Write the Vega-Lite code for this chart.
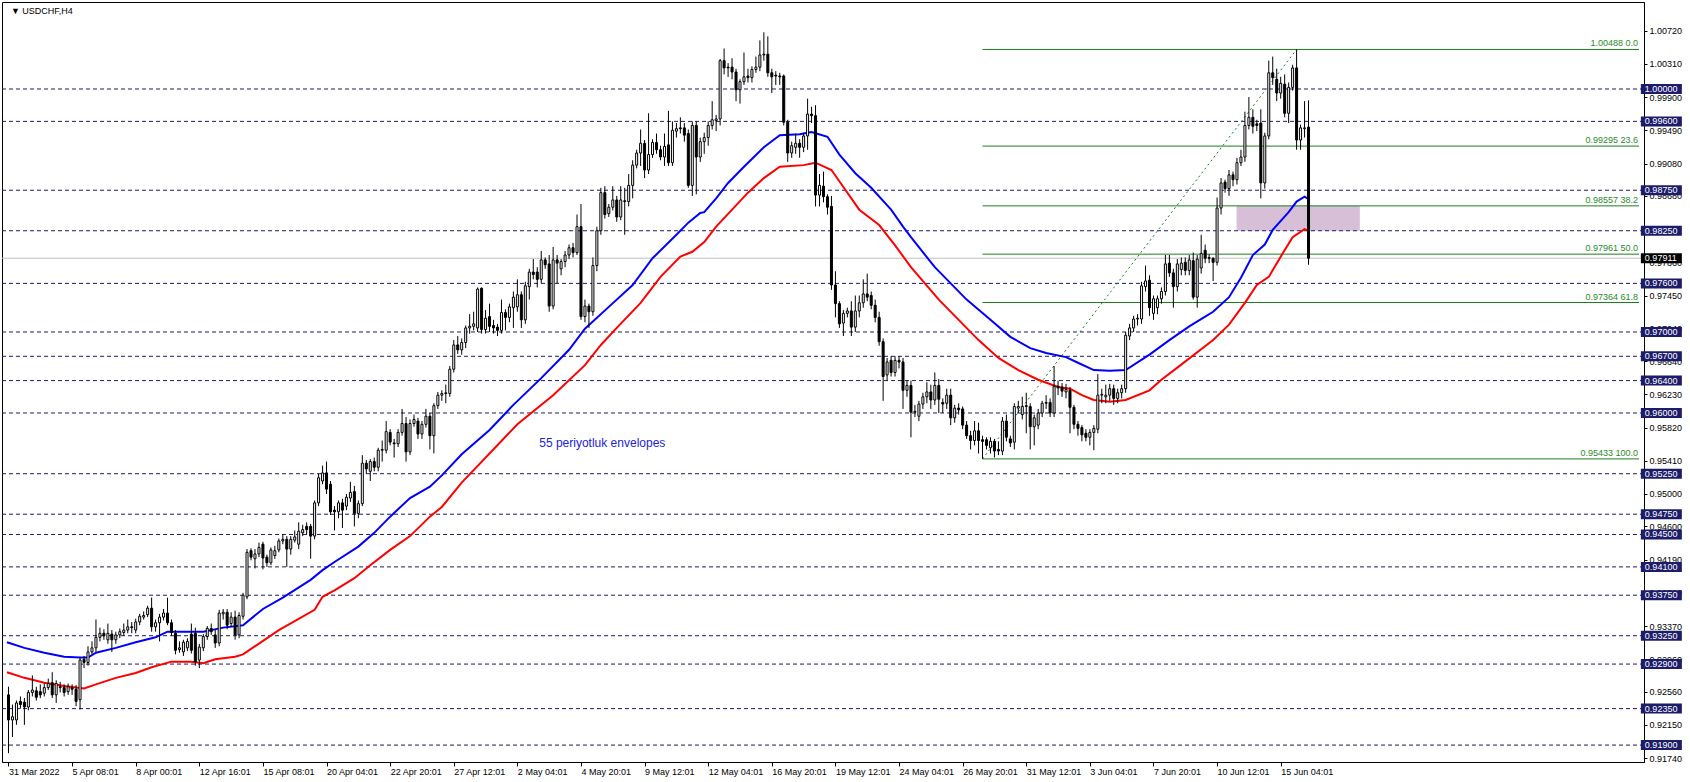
{
"$schema": "https://vega.github.io/schema/vega-lite/v6.json",
"width": 1642, "height": 760,
"autosize": "none",
"padding": {"left": 2, "top": 2, "right": 46, "bottom": 20},
"background": "white",
"config": {"view": {"stroke": "black", "strokeWidth": 1}, "font": "Liberation Sans", "axis": {"grid": false, "labelOverlap": false}},
"datasets": {
"k": [
{"i":0,"o":0.9252,"h":0.9262,"l":0.918,"c":0.9221},
{"i":1,"o":0.9221,"h":0.924,"l":0.92,"c":0.9225},
{"i":2,"o":0.9221,"h":0.9245,"l":0.9215,"c":0.9242},
{"i":3,"o":0.9244,"h":0.925,"l":0.9235,"c":0.924},
{"i":4,"o":0.9243,"h":0.9248,"l":0.9215,"c":0.9237},
{"i":5,"o":0.9237,"h":0.9258,"l":0.9233,"c":0.9255},
{"i":6,"o":0.9255,"h":0.9276,"l":0.925,"c":0.9258},
{"i":7,"o":0.9257,"h":0.9262,"l":0.9245,"c":0.9249},
{"i":8,"o":0.9256,"h":0.9265,"l":0.9248,"c":0.9252},
{"i":9,"o":0.9254,"h":0.9266,"l":0.925,"c":0.9261},
{"i":10,"o":0.9261,"h":0.9272,"l":0.9258,"c":0.9266},
{"i":11,"o":0.9267,"h":0.928,"l":0.9248,"c":0.9252},
{"i":12,"o":0.9252,"h":0.927,"l":0.9242,"c":0.9266},
{"i":13,"o":0.9262,"h":0.9268,"l":0.9255,"c":0.9261},
{"i":14,"o":0.9261,"h":0.9265,"l":0.925,"c":0.9255},
{"i":15,"o":0.9256,"h":0.9266,"l":0.9252,"c":0.9262},
{"i":16,"o":0.9261,"h":0.9265,"l":0.9252,"c":0.9259},
{"i":17,"o":0.9259,"h":0.9264,"l":0.9238,"c":0.9244},
{"i":18,"o":0.9246,"h":0.9298,"l":0.9234,"c":0.9295},
{"i":19,"o":0.9296,"h":0.93,"l":0.9285,"c":0.9292},
{"i":20,"o":0.9292,"h":0.9312,"l":0.9288,"c":0.9305},
{"i":21,"o":0.9305,"h":0.9318,"l":0.9302,"c":0.931},
{"i":22,"o":0.931,"h":0.9345,"l":0.9305,"c":0.9323},
{"i":23,"o":0.9323,"h":0.9335,"l":0.9318,"c":0.9328},
{"i":24,"o":0.9328,"h":0.9333,"l":0.932,"c":0.9325},
{"i":25,"o":0.932,"h":0.934,"l":0.9315,"c":0.9328},
{"i":26,"o":0.9327,"h":0.9332,"l":0.9305,"c":0.932},
{"i":27,"o":0.932,"h":0.933,"l":0.9315,"c":0.9326},
{"i":28,"o":0.9326,"h":0.9334,"l":0.9322,"c":0.933},
{"i":29,"o":0.9329,"h":0.934,"l":0.9325,"c":0.9332},
{"i":30,"o":0.9332,"h":0.9345,"l":0.9328,"c":0.9336},
{"i":31,"o":0.9336,"h":0.9342,"l":0.9328,"c":0.9335},
{"i":32,"o":0.9332,"h":0.9346,"l":0.9328,"c":0.9342},
{"i":33,"o":0.9342,"h":0.9352,"l":0.9338,"c":0.9349},
{"i":34,"o":0.9348,"h":0.9355,"l":0.9345,"c":0.935},
{"i":35,"o":0.9351,"h":0.9362,"l":0.9348,"c":0.9359},
{"i":36,"o":0.9359,"h":0.9372,"l":0.933,"c":0.9336},
{"i":37,"o":0.9336,"h":0.9345,"l":0.933,"c":0.9341},
{"i":38,"o":0.9341,"h":0.9352,"l":0.9318,"c":0.9348},
{"i":39,"o":0.9348,"h":0.9358,"l":0.9344,"c":0.9353},
{"i":40,"o":0.9353,"h":0.9372,"l":0.9338,"c":0.9341},
{"i":41,"o":0.9341,"h":0.9345,"l":0.9325,"c":0.9329},
{"i":42,"o":0.9328,"h":0.9332,"l":0.9302,"c":0.9307},
{"i":43,"o":0.9308,"h":0.9318,"l":0.9304,"c":0.931},
{"i":44,"o":0.9305,"h":0.932,"l":0.93,"c":0.9317},
{"i":45,"o":0.931,"h":0.9322,"l":0.9306,"c":0.9318},
{"i":46,"o":0.9327,"h":0.934,"l":0.9303,"c":0.9307},
{"i":47,"o":0.9328,"h":0.9335,"l":0.9288,"c":0.9293},
{"i":48,"o":0.9295,"h":0.9315,"l":0.9285,"c":0.9311},
{"i":49,"o":0.931,"h":0.9327,"l":0.9306,"c":0.9324},
{"i":50,"o":0.9324,"h":0.9337,"l":0.932,"c":0.9334},
{"i":51,"o":0.9334,"h":0.934,"l":0.9326,"c":0.933},
{"i":52,"o":0.9326,"h":0.9333,"l":0.931,"c":0.9316},
{"i":53,"o":0.9316,"h":0.9357,"l":0.9312,"c":0.9353},
{"i":54,"o":0.9352,"h":0.9358,"l":0.9345,"c":0.9354},
{"i":55,"o":0.9354,"h":0.9358,"l":0.9333,"c":0.9338},
{"i":56,"o":0.934,"h":0.9354,"l":0.9336,"c":0.9348},
{"i":57,"o":0.9348,"h":0.9356,"l":0.932,"c":0.9326},
{"i":58,"o":0.9326,"h":0.9354,"l":0.9322,"c":0.935},
{"i":59,"o":0.9349,"h":0.9378,"l":0.9345,"c":0.9375},
{"i":60,"o":0.9373,"h":0.9432,"l":0.937,"c":0.9428},
{"i":61,"o":0.943,"h":0.9433,"l":0.9418,"c":0.9422},
{"i":62,"o":0.942,"h":0.9432,"l":0.9408,"c":0.9426},
{"i":63,"o":0.9426,"h":0.944,"l":0.9422,"c":0.9434},
{"i":64,"o":0.9438,"h":0.9441,"l":0.9407,"c":0.9421},
{"i":65,"o":0.9422,"h":0.9425,"l":0.941,"c":0.9415},
{"i":66,"o":0.9415,"h":0.9434,"l":0.9412,"c":0.9431},
{"i":67,"o":0.9424,"h":0.9436,"l":0.942,"c":0.943},
{"i":68,"o":0.9431,"h":0.9445,"l":0.9428,"c":0.9442},
{"i":69,"o":0.9442,"h":0.945,"l":0.9438,"c":0.9444},
{"i":70,"o":0.9444,"h":0.9448,"l":0.941,"c":0.9432},
{"i":71,"o":0.9432,"h":0.9448,"l":0.9425,"c":0.9444},
{"i":72,"o":0.9443,"h":0.9455,"l":0.944,"c":0.9447},
{"i":73,"o":0.9438,"h":0.9465,"l":0.9432,"c":0.9454},
{"i":74,"o":0.9452,"h":0.9462,"l":0.9448,"c":0.9456},
{"i":75,"o":0.946,"h":0.9465,"l":0.945,"c":0.9456},
{"i":76,"o":0.946,"h":0.9463,"l":0.942,"c":0.9448},
{"i":77,"o":0.9448,"h":0.9492,"l":0.9444,"c":0.9489},
{"i":78,"o":0.9489,"h":0.9525,"l":0.9485,"c":0.952},
{"i":79,"o":0.9516,"h":0.9535,"l":0.9512,"c":0.9526},
{"i":80,"o":0.9526,"h":0.954,"l":0.95,"c":0.9506},
{"i":81,"o":0.9512,"h":0.9516,"l":0.9474,"c":0.9478},
{"i":82,"o":0.948,"h":0.9485,"l":0.9455,"c":0.9478},
{"i":83,"o":0.9478,"h":0.9492,"l":0.947,"c":0.9489},
{"i":84,"o":0.9489,"h":0.9494,"l":0.9458,"c":0.948},
{"i":85,"o":0.9485,"h":0.95,"l":0.948,"c":0.9496},
{"i":86,"o":0.9495,"h":0.9515,"l":0.949,"c":0.9502},
{"i":87,"o":0.9503,"h":0.951,"l":0.946,"c":0.9476},
{"i":88,"o":0.9476,"h":0.9492,"l":0.947,"c":0.9488},
{"i":89,"o":0.9488,"h":0.9548,"l":0.9485,"c":0.9538},
{"i":90,"o":0.9538,"h":0.9542,"l":0.9525,"c":0.9531},
{"i":91,"o":0.9528,"h":0.9543,"l":0.9516,"c":0.954},
{"i":92,"o":0.954,"h":0.9545,"l":0.9528,"c":0.9533},
{"i":93,"o":0.9533,"h":0.9557,"l":0.9528,"c":0.9554},
{"i":94,"o":0.9554,"h":0.9566,"l":0.954,"c":0.9555},
{"i":95,"o":0.9554,"h":0.959,"l":0.955,"c":0.9577},
{"i":96,"o":0.9576,"h":0.958,"l":0.956,"c":0.9564},
{"i":97,"o":0.9563,"h":0.9568,"l":0.9545,"c":0.9562},
{"i":98,"o":0.9562,"h":0.958,"l":0.9558,"c":0.9576},
{"i":99,"o":0.9576,"h":0.9605,"l":0.9572,"c":0.9587},
{"i":100,"o":0.9587,"h":0.9595,"l":0.954,"c":0.9552},
{"i":101,"o":0.9552,"h":0.9592,"l":0.9548,"c":0.9587},
{"i":102,"o":0.9587,"h":0.9598,"l":0.9583,"c":0.9592},
{"i":103,"o":0.959,"h":0.9594,"l":0.9568,"c":0.9574},
{"i":104,"o":0.9574,"h":0.959,"l":0.9568,"c":0.9586},
{"i":105,"o":0.9586,"h":0.9605,"l":0.9582,"c":0.9596},
{"i":106,"o":0.9596,"h":0.96,"l":0.9555,"c":0.9572},
{"i":107,"o":0.9572,"h":0.9612,"l":0.955,"c":0.9609},
{"i":108,"o":0.9609,"h":0.9626,"l":0.9605,"c":0.9622},
{"i":109,"o":0.9622,"h":0.9628,"l":0.9615,"c":0.9624},
{"i":110,"o":0.9624,"h":0.9635,"l":0.9612,"c":0.9625},
{"i":111,"o":0.9624,"h":0.9658,"l":0.962,"c":0.9654},
{"i":112,"o":0.9654,"h":0.969,"l":0.965,"c":0.9684},
{"i":113,"o":0.9684,"h":0.9695,"l":0.9673,"c":0.9678},
{"i":114,"o":0.9678,"h":0.9692,"l":0.9672,"c":0.9687},
{"i":115,"o":0.9687,"h":0.9708,"l":0.968,"c":0.9705},
{"i":116,"o":0.9705,"h":0.9722,"l":0.9698,"c":0.9707},
{"i":117,"o":0.9707,"h":0.9725,"l":0.9702,"c":0.971},
{"i":118,"o":0.9705,"h":0.9755,"l":0.97,"c":0.9753},
{"i":119,"o":0.9754,"h":0.9755,"l":0.9698,"c":0.9703},
{"i":120,"o":0.9703,"h":0.9727,"l":0.9698,"c":0.9717},
{"i":121,"o":0.9719,"h":0.9735,"l":0.97,"c":0.9707},
{"i":122,"o":0.9708,"h":0.9715,"l":0.9698,"c":0.9705},
{"i":123,"o":0.9706,"h":0.971,"l":0.9695,"c":0.9702},
{"i":124,"o":0.9702,"h":0.974,"l":0.9698,"c":0.9724},
{"i":125,"o":0.9724,"h":0.9728,"l":0.9702,"c":0.9718},
{"i":126,"o":0.9718,"h":0.9735,"l":0.9712,"c":0.9731},
{"i":127,"o":0.973,"h":0.975,"l":0.9705,"c":0.9743},
{"i":128,"o":0.9731,"h":0.9765,"l":0.9725,"c":0.9746},
{"i":129,"o":0.9746,"h":0.975,"l":0.9705,"c":0.9715},
{"i":130,"o":0.9715,"h":0.9762,"l":0.971,"c":0.9757},
{"i":131,"o":0.9756,"h":0.9778,"l":0.974,"c":0.9774},
{"i":132,"o":0.9774,"h":0.979,"l":0.9765,"c":0.9771},
{"i":133,"o":0.9774,"h":0.978,"l":0.9755,"c":0.9765},
{"i":134,"o":0.9765,"h":0.98,"l":0.976,"c":0.9789},
{"i":135,"o":0.9789,"h":0.9792,"l":0.9778,"c":0.9783},
{"i":136,"o":0.9784,"h":0.9795,"l":0.9725,"c":0.9732},
{"i":137,"o":0.9732,"h":0.9805,"l":0.9728,"c":0.9789},
{"i":138,"o":0.9789,"h":0.9795,"l":0.976,"c":0.9785},
{"i":139,"o":0.9778,"h":0.979,"l":0.977,"c":0.9787},
{"i":140,"o":0.9787,"h":0.98,"l":0.978,"c":0.9795},
{"i":141,"o":0.9795,"h":0.9808,"l":0.979,"c":0.9804},
{"i":142,"o":0.9804,"h":0.981,"l":0.9792,"c":0.9798},
{"i":143,"o":0.9798,"h":0.9845,"l":0.9795,"c":0.983},
{"i":144,"o":0.983,"h":0.9858,"l":0.9715,"c":0.9719},
{"i":145,"o":0.9719,"h":0.974,"l":0.9712,"c":0.9732},
{"i":146,"o":0.9732,"h":0.9735,"l":0.9705,"c":0.9725},
{"i":147,"o":0.9725,"h":0.9792,"l":0.972,"c":0.9782},
{"i":148,"o":0.9782,"h":0.983,"l":0.9775,"c":0.9825},
{"i":149,"o":0.9825,"h":0.9878,"l":0.982,"c":0.9872},
{"i":150,"o":0.9872,"h":0.988,"l":0.984,"c":0.9845},
{"i":151,"o":0.9846,"h":0.9858,"l":0.9842,"c":0.9854},
{"i":152,"o":0.9854,"h":0.988,"l":0.985,"c":0.9863},
{"i":153,"o":0.9863,"h":0.9868,"l":0.9836,"c":0.9842},
{"i":154,"o":0.9842,"h":0.988,"l":0.9838,"c":0.9863},
{"i":155,"o":0.9862,"h":0.9878,"l":0.982,"c":0.9861},
{"i":156,"o":0.9861,"h":0.9895,"l":0.9855,"c":0.9881},
{"i":157,"o":0.9881,"h":0.9912,"l":0.9865,"c":0.9906},
{"i":158,"o":0.9906,"h":0.9925,"l":0.9902,"c":0.9921},
{"i":159,"o":0.9921,"h":0.995,"l":0.9905,"c":0.9933},
{"i":160,"o":0.9933,"h":0.9937,"l":0.989,"c":0.99},
{"i":161,"o":0.99,"h":0.997,"l":0.9895,"c":0.9919},
{"i":162,"o":0.9919,"h":0.9938,"l":0.9915,"c":0.9934},
{"i":163,"o":0.9934,"h":0.9945,"l":0.992,"c":0.9925},
{"i":164,"o":0.9925,"h":0.993,"l":0.9912,"c":0.9916},
{"i":165,"o":0.9916,"h":0.9945,"l":0.9905,"c":0.9929},
{"i":166,"o":0.9931,"h":0.9973,"l":0.9905,"c":0.9909},
{"i":167,"o":0.9909,"h":0.996,"l":0.9905,"c":0.9949},
{"i":168,"o":0.9948,"h":0.9958,"l":0.994,"c":0.9951},
{"i":169,"o":0.9952,"h":0.9965,"l":0.9945,"c":0.9951},
{"i":170,"o":0.9952,"h":0.9958,"l":0.9935,"c":0.9943},
{"i":171,"o":0.9945,"h":0.995,"l":0.9878,"c":0.9881},
{"i":172,"o":0.9881,"h":0.996,"l":0.9868,"c":0.9955},
{"i":173,"o":0.9955,"h":0.996,"l":0.987,"c":0.9916},
{"i":174,"o":0.9916,"h":0.994,"l":0.991,"c":0.9935},
{"i":175,"o":0.9935,"h":0.9946,"l":0.992,"c":0.994},
{"i":176,"o":0.994,"h":0.996,"l":0.993,"c":0.9955},
{"i":177,"o":0.9955,"h":0.9985,"l":0.995,"c":0.9962},
{"i":178,"o":0.9961,"h":0.9968,"l":0.9948,"c":0.9963},
{"i":179,"o":0.9963,"h":1.0037,"l":0.9955,"c":1.0035},
{"i":180,"o":1.0035,"h":1.005,"l":1.0018,"c":1.0026},
{"i":181,"o":1.0027,"h":1.0032,"l":1.0015,"c":1.0026},
{"i":182,"o":1.0027,"h":1.0038,"l":1.0012,"c":1.0021},
{"i":183,"o":1.0021,"h":1.0025,"l":0.9985,"c":0.9999},
{"i":184,"o":0.9999,"h":1.0012,"l":0.9982,"c":1.0009},
{"i":185,"o":1.0009,"h":1.0045,"l":1.0005,"c":1.0015},
{"i":186,"o":1.0016,"h":1.0025,"l":1.0008,"c":1.0014},
{"i":187,"o":1.0014,"h":1.0028,"l":1.0008,"c":1.0024},
{"i":188,"o":1.0024,"h":1.004,"l":1.002,"c":1.0027},
{"i":189,"o":1.0027,"h":1.006,"l":1.0022,"c":1.0042},
{"i":190,"o":1.0042,"h":1.007,"l":1.0035,"c":1.0043},
{"i":191,"o":1.0043,"h":1.0065,"l":1.0015,"c":1.002},
{"i":192,"o":1.002,"h":1.0025,"l":0.9995,"c":1.0015},
{"i":193,"o":1.0017,"h":1.0022,"l":1.0005,"c":1.0016},
{"i":194,"o":1.0016,"h":1.002,"l":1.0005,"c":1.0015},
{"i":195,"o":1.0016,"h":1.0018,"l":0.9955,"c":0.9959},
{"i":196,"o":0.9959,"h":0.9962,"l":0.991,"c":0.9921},
{"i":197,"o":0.9921,"h":0.9935,"l":0.9915,"c":0.993},
{"i":198,"o":0.9928,"h":0.9945,"l":0.992,"c":0.9933},
{"i":199,"o":0.9933,"h":0.9938,"l":0.9915,"c":0.9928},
{"i":200,"o":0.9928,"h":0.9946,"l":0.9922,"c":0.9942},
{"i":201,"o":0.9942,"h":0.9988,"l":0.9925,"c":0.9969},
{"i":202,"o":0.9969,"h":0.9978,"l":0.9958,"c":0.9967},
{"i":203,"o":0.9967,"h":0.998,"l":0.9855,"c":0.9869},
{"i":204,"o":0.9869,"h":0.9895,"l":0.9855,"c":0.9881},
{"i":205,"o":0.988,"h":0.9898,"l":0.986,"c":0.9867},
{"i":206,"o":0.9867,"h":0.987,"l":0.9845,"c":0.9854},
{"i":207,"o":0.9855,"h":0.9868,"l":0.9752,"c":0.9758},
{"i":208,"o":0.9758,"h":0.9775,"l":0.9718,"c":0.9735},
{"i":209,"o":0.9735,"h":0.9738,"l":0.9705,"c":0.971},
{"i":210,"o":0.9711,"h":0.9727,"l":0.9695,"c":0.9723},
{"i":211,"o":0.9723,"h":0.973,"l":0.9718,"c":0.9726},
{"i":212,"o":0.9726,"h":0.9738,"l":0.9695,"c":0.9706},
{"i":213,"o":0.9706,"h":0.9745,"l":0.97,"c":0.9726},
{"i":214,"o":0.9726,"h":0.9745,"l":0.9718,"c":0.9736},
{"i":215,"o":0.9736,"h":0.9765,"l":0.973,"c":0.9747},
{"i":216,"o":0.9747,"h":0.9772,"l":0.9738,"c":0.9743},
{"i":217,"o":0.9745,"h":0.975,"l":0.9728,"c":0.9733},
{"i":218,"o":0.9733,"h":0.974,"l":0.9712,"c":0.9718},
{"i":219,"o":0.9718,"h":0.9725,"l":0.9683,"c":0.9688},
{"i":220,"o":0.9688,"h":0.9692,"l":0.9615,"c":0.9645},
{"i":221,"o":0.9647,"h":0.9668,"l":0.964,"c":0.9663},
{"i":222,"o":0.9665,"h":0.967,"l":0.9645,"c":0.965},
{"i":223,"o":0.965,"h":0.967,"l":0.9645,"c":0.9665},
{"i":224,"o":0.9665,"h":0.967,"l":0.9655,"c":0.9663},
{"i":225,"o":0.9663,"h":0.9668,"l":0.9605,"c":0.9628},
{"i":226,"o":0.9628,"h":0.964,"l":0.962,"c":0.9634},
{"i":227,"o":0.9634,"h":0.964,"l":0.957,"c":0.9601},
{"i":228,"o":0.9601,"h":0.961,"l":0.9595,"c":0.9602},
{"i":229,"o":0.9596,"h":0.9615,"l":0.959,"c":0.9611},
{"i":230,"o":0.9611,"h":0.9625,"l":0.9605,"c":0.962},
{"i":231,"o":0.962,"h":0.9638,"l":0.9612,"c":0.9626},
{"i":232,"o":0.9626,"h":0.9635,"l":0.9605,"c":0.9616},
{"i":233,"o":0.9616,"h":0.965,"l":0.961,"c":0.9634},
{"i":234,"o":0.9634,"h":0.9642,"l":0.96,"c":0.9617},
{"i":235,"o":0.9613,"h":0.9618,"l":0.96,"c":0.9611},
{"i":236,"o":0.9612,"h":0.963,"l":0.9605,"c":0.9622},
{"i":237,"o":0.9622,"h":0.963,"l":0.9585,"c":0.9594},
{"i":238,"o":0.9594,"h":0.961,"l":0.9588,"c":0.9606},
{"i":239,"o":0.9606,"h":0.9612,"l":0.9598,"c":0.9604},
{"i":240,"o":0.9605,"h":0.9608,"l":0.958,"c":0.9585},
{"i":241,"o":0.9585,"h":0.959,"l":0.9568,"c":0.9572},
{"i":242,"o":0.9572,"h":0.9578,"l":0.9555,"c":0.9566},
{"i":243,"o":0.9566,"h":0.959,"l":0.956,"c":0.9578},
{"i":244,"o":0.9578,"h":0.9588,"l":0.955,"c":0.9566},
{"i":245,"o":0.9567,"h":0.9572,"l":0.95433,"c":0.9565},
{"i":246,"o":0.9567,"h":0.957,"l":0.9555,"c":0.956},
{"i":247,"o":0.9557,"h":0.957,"l":0.955,"c":0.9565},
{"i":248,"o":0.9565,"h":0.9568,"l":0.9545,"c":0.9553},
{"i":249,"o":0.9555,"h":0.9565,"l":0.9548,"c":0.9553},
{"i":250,"o":0.9553,"h":0.9595,"l":0.9548,"c":0.959},
{"i":251,"o":0.959,"h":0.9598,"l":0.9565,"c":0.957},
{"i":252,"o":0.9568,"h":0.9572,"l":0.9558,"c":0.9563},
{"i":253,"o":0.9564,"h":0.9612,"l":0.9555,"c":0.9608},
{"i":254,"o":0.9606,"h":0.9615,"l":0.96,"c":0.9608},
{"i":255,"o":0.9598,"h":0.962,"l":0.9592,"c":0.9608},
{"i":256,"o":0.9609,"h":0.9625,"l":0.9575,"c":0.9608},
{"i":257,"o":0.9608,"h":0.9612,"l":0.9555,"c":0.9583},
{"i":258,"o":0.9583,"h":0.9598,"l":0.956,"c":0.9594},
{"i":259,"o":0.9585,"h":0.9605,"l":0.958,"c":0.96},
{"i":260,"o":0.96,"h":0.9615,"l":0.9595,"c":0.9612},
{"i":261,"o":0.9612,"h":0.9622,"l":0.9605,"c":0.9613},
{"i":262,"o":0.9613,"h":0.9618,"l":0.9595,"c":0.96},
{"i":263,"o":0.96,"h":0.9658,"l":0.9595,"c":0.9633},
{"i":264,"o":0.9633,"h":0.964,"l":0.9622,"c":0.9631},
{"i":265,"o":0.9632,"h":0.9637,"l":0.962,"c":0.9627},
{"i":266,"o":0.9626,"h":0.9636,"l":0.9618,"c":0.9629},
{"i":267,"o":0.9628,"h":0.9632,"l":0.9575,"c":0.9607},
{"i":268,"o":0.9607,"h":0.961,"l":0.958,"c":0.9586},
{"i":269,"o":0.9586,"h":0.959,"l":0.9572,"c":0.9581},
{"i":270,"o":0.9582,"h":0.9585,"l":0.9565,"c":0.9573},
{"i":271,"o":0.9575,"h":0.958,"l":0.9565,"c":0.957},
{"i":272,"o":0.957,"h":0.958,"l":0.956,"c":0.9576},
{"i":273,"o":0.9576,"h":0.9585,"l":0.9554,"c":0.9581},
{"i":274,"o":0.958,"h":0.9648,"l":0.9575,"c":0.9622},
{"i":275,"o":0.9622,"h":0.963,"l":0.9612,"c":0.9623},
{"i":276,"o":0.962,"h":0.9635,"l":0.9612,"c":0.9622},
{"i":277,"o":0.9622,"h":0.9636,"l":0.9615,"c":0.963},
{"i":278,"o":0.963,"h":0.9635,"l":0.961,"c":0.9618},
{"i":279,"o":0.9618,"h":0.963,"l":0.9612,"c":0.9625},
{"i":280,"o":0.9625,"h":0.9635,"l":0.9618,"c":0.963},
{"i":281,"o":0.963,"h":0.97,"l":0.9625,"c":0.9696},
{"i":282,"o":0.9695,"h":0.971,"l":0.969,"c":0.9705},
{"i":283,"o":0.9705,"h":0.972,"l":0.97,"c":0.9716},
{"i":284,"o":0.9716,"h":0.9722,"l":0.9708,"c":0.9717},
{"i":285,"o":0.9716,"h":0.9762,"l":0.971,"c":0.9757},
{"i":286,"o":0.9756,"h":0.9782,"l":0.975,"c":0.9763},
{"i":287,"o":0.9764,"h":0.977,"l":0.972,"c":0.973},
{"i":288,"o":0.9723,"h":0.9745,"l":0.9715,"c":0.9741},
{"i":289,"o":0.973,"h":0.9745,"l":0.9722,"c":0.9741},
{"i":290,"o":0.9741,"h":0.9755,"l":0.9735,"c":0.975},
{"i":291,"o":0.975,"h":0.9795,"l":0.9745,"c":0.9784},
{"i":292,"o":0.9785,"h":0.9795,"l":0.9768,"c":0.9773},
{"i":293,"o":0.9773,"h":0.9778,"l":0.973,"c":0.9756},
{"i":294,"o":0.9756,"h":0.979,"l":0.975,"c":0.9784},
{"i":295,"o":0.9777,"h":0.9792,"l":0.977,"c":0.9785},
{"i":296,"o":0.9786,"h":0.9792,"l":0.977,"c":0.9776},
{"i":297,"o":0.9776,"h":0.9795,"l":0.977,"c":0.9789},
{"i":298,"o":0.9788,"h":0.9798,"l":0.974,"c":0.9743},
{"i":299,"o":0.9743,"h":0.9795,"l":0.973,"c":0.979},
{"i":300,"o":0.9779,"h":0.982,"l":0.9772,"c":0.9797},
{"i":301,"o":0.9801,"h":0.9808,"l":0.9785,"c":0.9791},
{"i":302,"o":0.9792,"h":0.9796,"l":0.9785,"c":0.9791},
{"i":303,"o":0.9791,"h":0.9792,"l":0.9763,"c":0.9786},
{"i":304,"o":0.9786,"h":0.9866,"l":0.9782,"c":0.9853},
{"i":305,"o":0.9853,"h":0.989,"l":0.9845,"c":0.9884},
{"i":306,"o":0.9885,"h":0.9888,"l":0.9872,"c":0.9877},
{"i":307,"o":0.9877,"h":0.99,"l":0.9868,"c":0.9894},
{"i":308,"o":0.9894,"h":0.9898,"l":0.988,"c":0.9888},
{"i":309,"o":0.9888,"h":0.9915,"l":0.9882,"c":0.9909},
{"i":310,"o":0.9909,"h":0.9925,"l":0.9905,"c":0.9916},
{"i":311,"o":0.9916,"h":0.9972,"l":0.991,"c":0.9955},
{"i":312,"o":0.9955,"h":0.999,"l":0.995,"c":0.9965},
{"i":313,"o":0.9965,"h":0.9975,"l":0.9945,"c":0.9954},
{"i":314,"o":0.9957,"h":0.9962,"l":0.9948,"c":0.9955},
{"i":315,"o":0.9958,"h":0.9975,"l":0.9865,"c":0.9884},
{"i":316,"o":0.9884,"h":0.9946,"l":0.9877,"c":0.9942},
{"i":317,"o":0.9942,"h":1.0035,"l":0.9938,"c":1.002},
{"i":318,"o":1.002,"h":1.004,"l":1.0005,"c":1.0014},
{"i":319,"o":1.0012,"h":1.0025,"l":0.9985,"c":0.9995},
{"i":320,"o":0.9995,"h":1.0015,"l":0.9988,"c":1.0007},
{"i":321,"o":1.0006,"h":1.0018,"l":0.9965,"c":0.997},
{"i":322,"o":0.997,"h":1.0008,"l":0.9958,"c":1.0002},
{"i":323,"o":1.0002,"h":1.003,"l":0.9998,"c":1.0026},
{"i":324,"o":1.0026,"h":1.00488,"l":0.9925,"c":0.9937},
{"i":325,"o":0.9937,"h":0.9956,"l":0.9925,"c":0.9952},
{"i":326,"o":0.9951,"h":0.9985,"l":0.994,"c":0.9952},
{"i":327,"o":0.9953,"h":0.9986,"l":0.9783,"c":0.97911}
],
"up": [
{"i":-0.4,"v":0.9317},{"i":4,"v":0.931},{"i":9,"v":0.9304},{"i":14,"v":0.9299},{"i":18,"v":0.9298},{"i":20,"v":0.9298},{"i":22,"v":0.9304},{"i":27,"v":0.931},{"i":32,"v":0.9317},{"i":37,"v":0.9323},{"i":40,"v":0.933},{"i":44,"v":0.933},{"i":49,"v":0.933},{"i":54,"v":0.9335},{"i":59,"v":0.9338},{"i":64,"v":0.9358},{"i":69,"v":0.9372},{"i":76,"v":0.9394},{"i":79,"v":0.9406},{"i":82,"v":0.9416},{"i":88,"v":0.9435},{"i":92,"v":0.9452},{"i":96,"v":0.9472},{"i":101,"v":0.9495},{"i":106,"v":0.9509},{"i":109,"v":0.9523},{"i":114,"v":0.9549},{"i":121,"v":0.9579},{"i":127,"v":0.961},{"i":134,"v":0.9643},{"i":141,"v":0.9678},{"i":145,"v":0.9704},{"i":151,"v":0.9731},{"i":157,"v":0.9758},{"i":162,"v":0.9791},{"i":168,"v":0.982},{"i":171,"v":0.9835},{"i":174,"v":0.9847},{"i":175,"v":0.9848},{"i":178,"v":0.9865},{"i":181,"v":0.9884},{"i":185,"v":0.9904},{"i":190,"v":0.9928},{"i":194,"v":0.9943},{"i":199,"v":0.9944},{"i":202,"v":0.9947},{"i":206,"v":0.9941},{"i":209,"v":0.9919},{"i":213,"v":0.9896},{"i":217,"v":0.9878},{"i":222,"v":0.9851},{"i":225,"v":0.983},{"i":227,"v":0.9817},{"i":233,"v":0.978},{"i":241,"v":0.974},{"i":247,"v":0.9715},{"i":252,"v":0.9694},{"i":257,"v":0.968},{"i":261,"v":0.9674},{"i":266,"v":0.9669},{"i":269,"v":0.9662},{"i":273,"v":0.9653},{"i":277,"v":0.9652},{"i":281,"v":0.9653},{"i":287,"v":0.9672},{"i":292,"v":0.969},{"i":297,"v":0.9707},{"i":301,"v":0.9719},{"i":303,"v":0.9725},{"i":307,"v":0.9743},{"i":310,"v":0.9767},{"i":313,"v":0.9795},{"i":316,"v":0.9808},{"i":318,"v":0.9826},{"i":322,"v":0.9848},{"i":324,"v":0.9861},{"i":326,"v":0.9867},{"i":327,"v":0.9864}
],
"dn": [
{"i":-0.4,"v":0.928},{"i":4,"v":0.9273},{"i":9,"v":0.9267},{"i":14,"v":0.9263},{"i":19,"v":0.926},{"i":22,"v":0.9265},{"i":27,"v":0.9273},{"i":32,"v":0.9279},{"i":36,"v":0.9286},{"i":41,"v":0.9293},{"i":46,"v":0.9293},{"i":49,"v":0.9291},{"i":52,"v":0.9296},{"i":57,"v":0.9299},{"i":59,"v":0.9302},{"i":68,"v":0.9332},{"i":77,"v":0.9357},{"i":79,"v":0.9373},{"i":82,"v":0.9381},{"i":87,"v":0.9396},{"i":91,"v":0.9412},{"i":96,"v":0.9431},{"i":101,"v":0.9448},{"i":106,"v":0.9472},{"i":109,"v":0.9484},{"i":114,"v":0.9514},{"i":128,"v":0.9586},{"i":137,"v":0.9622},{"i":145,"v":0.9659},{"i":149,"v":0.9684},{"i":153,"v":0.9705},{"i":159,"v":0.9736},{"i":164,"v":0.9768},{"i":169,"v":0.9793},{"i":172,"v":0.9799},{"i":175,"v":0.9811},{"i":178,"v":0.983},{"i":182,"v":0.9851},{"i":186,"v":0.9872},{"i":190,"v":0.989},{"i":194,"v":0.9904},{"i":200,"v":0.9906},{"i":203,"v":0.9909},{"i":207,"v":0.99},{"i":210,"v":0.9879},{"i":214,"v":0.9851},{"i":219,"v":0.9832},{"i":223,"v":0.9807},{"i":227,"v":0.978},{"i":234,"v":0.974},{"i":239,"v":0.9715},{"i":244,"v":0.969},{"i":249,"v":0.9668},{"i":254,"v":0.9653},{"i":259,"v":0.9641},{"i":264,"v":0.9632},{"i":267,"v":0.963},{"i":270,"v":0.9622},{"i":273,"v":0.9616},{"i":277,"v":0.9614},{"i":281,"v":0.9616},{"i":287,"v":0.9628},{"i":290,"v":0.9641},{"i":294,"v":0.9656},{"i":303,"v":0.969},{"i":307,"v":0.9709},{"i":311,"v":0.9736},{"i":314,"v":0.9758},{"i":317,"v":0.9768},{"i":320,"v":0.9793},{"i":323,"v":0.9817},{"i":326,"v":0.9827},{"i":327,"v":0.9825}
],
"lv": [{"p":1.0},{"p":0.996},{"p":0.9875},{"p":0.9825},{"p":0.976},{"p":0.97},{"p":0.967},{"p":0.964},{"p":0.96},{"p":0.9525},{"p":0.9475},{"p":0.945},{"p":0.941},{"p":0.9375},{"p":0.9325},{"p":0.929},{"p":0.9235},{"p":0.919}],
"fib": [{"p":1.00488,"t":"1.00488 0.0"},{"p":0.99295,"t":"0.99295 23.6"},{"p":0.98557,"t":"0.98557 38.2"},{"p":0.97961,"t":"0.97961 50.0"},{"p":0.97364,"t":"0.97364 61.8"},{"p":0.95433,"t":"0.95433 100.0"}],
"fd": [{"i1":245,"p1":0.95433,"i2":324,"p2":1.00488}],
"zone": [{"i1":308.9,"i2":339.9,"p1":0.9825,"p2":0.98557}],
"bid": [{"p":0.97911}],
"note": [{"i":133.5,"p":0.9563,"t":"55 periyotluk envelopes"}],
"ttl": [{"i":0.6,"p":1.0096,"t":"▼ USDCHF,H4"}]
},
"layer": [
{"data": {"name": "zone"}, "mark": {"type": "rect", "color": "#d8bfd8"},
 "encoding": {
  "x": {"field": "i1", "type": "quantitative", "scale": {"domain": [-0.375, 410.125], "nice": false, "zero": false},
    "axis": {"values": [0,16,32,48,64,80,96,112,128,144,160,176,192,208,224,240,256,272,288,304,320], "tickCount": 100, "labelExpr": "['31 Mar 2022','5 Apr 08:01','8 Apr 00:01','12 Apr 16:01','15 Apr 08:01','20 Apr 04:01','22 Apr 20:01','27 Apr 12:01','2 May 04:01','4 May 20:01','9 May 12:01','12 May 04:01','16 May 20:01','19 May 12:01','24 May 04:01','26 May 20:01','31 May 12:01','3 Jun 04:01','7 Jun 20:01','10 Jun 12:01','15 Jun 04:01'][round(datum.value/16)]", "title": null, "labelAlign": "left", "labelFontSize": 9, "labelFont": "Liberation Sans", "labelColor": "black", "labelPadding": 1, "tickSize": 4, "tickColor": "black", "domainColor": "black", "labelOverlap": false, "labelFlush": false, "grid": false}},
  "x2": {"field": "i2"},
  "y": {"field": "p1", "type": "quantitative", "scale": {"domain": [0.91691, 1.01074], "nice": false, "zero": false},
    "axis": {"orient": "right", "values": [1.0072,1.0031,0.999,0.9949,0.9908,0.9868,0.9786,0.9745,0.9704,0.9664,0.9623,0.9582,0.9541,0.95,0.946,0.9419,0.9378,0.9337,0.9296,0.9256,0.9215,0.9174], "tickCount": 100, "format": ".5f", "title": null, "labelFontSize": 9, "labelFont": "Liberation Sans", "labelColor": "black", "labelPadding": 2, "tickSize": 3, "tickColor": "black", "domainColor": "black", "labelOverlap": false, "labelFlush": false, "grid": false}},
  "y2": {"field": "p2"}
 }},
{"data": {"name": "lv"}, "mark": {"type": "rule", "color": "#1c1c6a", "strokeWidth": 1, "strokeDash": [4, 3]},
 "encoding": {"y": {"field": "p", "type": "quantitative", "scale": {"domain": [0.91691, 1.01074], "nice": false, "zero": false}}}},
{"data": {"name": "bid"}, "mark": {"type": "rule", "color": "#c0c0c0", "strokeWidth": 1},
 "encoding": {"y": {"field": "p", "type": "quantitative", "scale": {"domain": [0.91691, 1.01074], "nice": false, "zero": false}}}},
{"data": {"name": "fib"}, "mark": {"type": "rule", "color": "#1e7d1e", "strokeWidth": 1},
 "encoding": {
  "x": {"datum": 245, "type": "quantitative", "scale": {"domain": [-0.375, 410.125], "nice": false, "zero": false}},
  "x2": {"datum": 410.125},
  "y": {"field": "p", "type": "quantitative", "scale": {"domain": [0.91691, 1.01074], "nice": false, "zero": false}}}},
{"data": {"name": "fd"}, "mark": {"type": "rule", "color": "#1e7d1e", "strokeWidth": 1, "strokeDash": [2, 3]},
 "encoding": {
  "x": {"field": "i1", "type": "quantitative", "scale": {"domain": [-0.375, 410.125], "nice": false, "zero": false}},
  "x2": {"field": "i2"},
  "y": {"field": "p1", "type": "quantitative", "scale": {"domain": [0.91691, 1.01074], "nice": false, "zero": false}},
  "y2": {"field": "p2"}}},
{"data": {"name": "up"}, "mark": {"type": "line", "color": "#0000ff", "strokeWidth": 2},
 "encoding": {
  "x": {"field": "i", "type": "quantitative", "scale": {"domain": [-0.375, 410.125], "nice": false, "zero": false}},
  "y": {"field": "v", "type": "quantitative", "scale": {"domain": [0.91691, 1.01074], "nice": false, "zero": false}}}},
{"data": {"name": "dn"}, "mark": {"type": "line", "color": "#ff0000", "strokeWidth": 2},
 "encoding": {
  "x": {"field": "i", "type": "quantitative", "scale": {"domain": [-0.375, 410.125], "nice": false, "zero": false}},
  "y": {"field": "v", "type": "quantitative", "scale": {"domain": [0.91691, 1.01074], "nice": false, "zero": false}}}},
{"data": {"name": "k"}, "mark": {"type": "rule", "color": "black", "strokeWidth": 1},
 "encoding": {
  "x": {"field": "i", "type": "quantitative", "scale": {"domain": [-0.375, 410.125], "nice": false, "zero": false}},
  "y": {"field": "l", "type": "quantitative", "scale": {"domain": [0.91691, 1.01074], "nice": false, "zero": false}},
  "y2": {"field": "h"}}},
{"data": {"name": "k"}, "mark": {"type": "bar", "width": 2, "stroke": "black", "strokeWidth": 1},
 "encoding": {
  "x": {"field": "i", "type": "quantitative", "scale": {"domain": [-0.375, 410.125], "nice": false, "zero": false}},
  "y": {"field": "o", "type": "quantitative", "scale": {"domain": [0.91691, 1.01074], "nice": false, "zero": false}},
  "y2": {"field": "c"},
  "fill": {"condition": {"test": "datum.c >= datum.o", "value": "white"}, "value": "black"}}},
{"data": {"name": "note"}, "mark": {"type": "text", "align": "left", "baseline": "middle", "fontSize": 12, "font": "Liberation Sans", "color": "#2222dd"},
 "encoding": {
  "x": {"field": "i", "type": "quantitative", "scale": {"domain": [-0.375, 410.125], "nice": false, "zero": false}},
  "y": {"field": "p", "type": "quantitative", "scale": {"domain": [0.91691, 1.01074], "nice": false, "zero": false}},
  "text": {"field": "t"}}},
{"data": {"name": "ttl"}, "mark": {"type": "text", "align": "left", "baseline": "middle", "fontSize": 9, "font": "Liberation Sans", "color": "black"},
 "encoding": {
  "x": {"field": "i", "type": "quantitative", "scale": {"domain": [-0.375, 410.125], "nice": false, "zero": false}},
  "y": {"field": "p", "type": "quantitative", "scale": {"domain": [0.91691, 1.01074], "nice": false, "zero": false}},
  "text": {"field": "t"}}},
{"data": {"name": "fib"}, "mark": {"type": "text", "align": "right", "baseline": "bottom", "dy": -1, "fontSize": 9, "font": "Liberation Sans", "color": "#2a8a2a"},
 "encoding": {
  "x": {"datum": 409.9, "type": "quantitative", "scale": {"domain": [-0.375, 410.125], "nice": false, "zero": false}},
  "y": {"field": "p", "type": "quantitative", "scale": {"domain": [0.91691, 1.01074], "nice": false, "zero": false}},
  "text": {"field": "t"}}},
{"data": {"name": "lv"}, "mark": {"type": "tick", "orient": "horizontal", "size": 41, "thickness": 10, "color": "#1c1c6a", "opacity": 1},
 "encoding": {
  "x": {"datum": 415.75, "type": "quantitative", "scale": {"domain": [-0.375, 410.125], "nice": false, "zero": false}},
  "y": {"field": "p", "type": "quantitative", "scale": {"domain": [0.91691, 1.01074], "nice": false, "zero": false}}}},
{"data": {"name": "lv"}, "mark": {"type": "text", "align": "left", "baseline": "middle", "fontSize": 9, "font": "Liberation Sans", "color": "white"},
 "encoding": {
  "x": {"datum": 411.6, "type": "quantitative", "scale": {"domain": [-0.375, 410.125], "nice": false, "zero": false}},
  "y": {"field": "p", "type": "quantitative", "scale": {"domain": [0.91691, 1.01074], "nice": false, "zero": false}},
  "text": {"field": "p", "format": ".5f"}}},
{"data": {"name": "bid"}, "mark": {"type": "tick", "orient": "horizontal", "size": 41, "thickness": 10, "color": "black", "opacity": 1},
 "encoding": {
  "x": {"datum": 415.75, "type": "quantitative", "scale": {"domain": [-0.375, 410.125], "nice": false, "zero": false}},
  "y": {"field": "p", "type": "quantitative", "scale": {"domain": [0.91691, 1.01074], "nice": false, "zero": false}}}},
{"data": {"name": "bid"}, "mark": {"type": "text", "align": "left", "baseline": "middle", "fontSize": 9, "font": "Liberation Sans", "color": "white"},
 "encoding": {
  "x": {"datum": 411.6, "type": "quantitative", "scale": {"domain": [-0.375, 410.125], "nice": false, "zero": false}},
  "y": {"field": "p", "type": "quantitative", "scale": {"domain": [0.91691, 1.01074], "nice": false, "zero": false}},
  "text": {"field": "p", "format": ".5f"}}}
]
}
